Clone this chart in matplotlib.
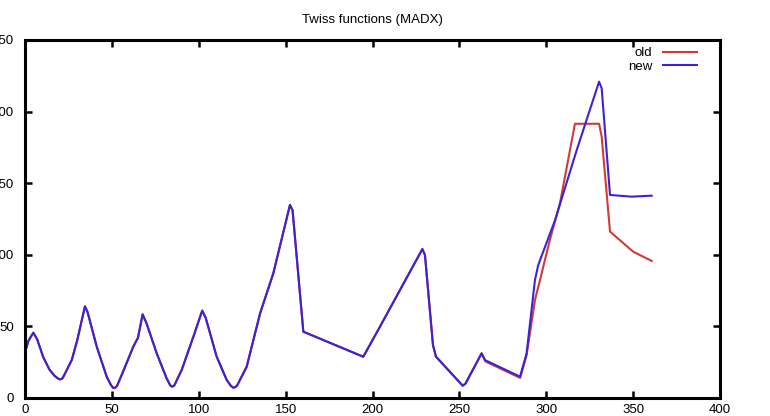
import matplotlib
matplotlib.use("Agg")
import matplotlib.pyplot as plt

plt.rcParams["font.family"] = ["Liberation Sans", "DejaVu Sans"]

# part of the lattice where old and new optics coincide
s_common = [0, 2, 4.8, 7, 10.5, 14, 17, 19, 20.1, 21.5, 23, 26.9, 30, 34.5, 36, 41.3, 47,
            49.5, 50.8, 52, 53, 57, 62.3, 65, 67.7, 70, 75.8, 81.5, 83.5, 84.4, 85.5, 86,
            90.2, 96.9, 102, 104, 110.3, 116.1, 118.5, 119.9, 121, 122, 127.6, 135.3,
            142.9, 152.5, 154, 157, 160.2, 194.7, 204.3, 228.7, 230.2, 234.8, 236.5,
            251.9, 253.5, 262.8]
beta_common = [32, 40, 45.6, 41, 28.5, 20, 15.5, 13.6, 13, 13.6, 17, 26.5, 40, 64, 60, 35.8,
               14.9, 9, 7, 7.2, 8.5, 20, 35.8, 42, 58.4, 52, 31.2, 13.8, 9, 8, 8.3, 9,
               19.6, 42.8, 61, 56, 28.9, 12.6, 8.5, 7.2, 7.6, 8.5, 21.9, 59.1,
               87, 134.8, 131, 90, 46.3, 28.8, 49.8, 104, 99.8, 37, 28.9,
               8.6, 10, 31.2]

s_old_tail = [265, 285, 288.7, 293.5, 296.4, 302, 307.9, 316.5, 330.4, 331.9, 336.7, 350, 360.7]
beta_old_tail = [25.5, 14, 30, 68.4, 82.4, 110, 136, 191.5, 191.5, 182.5, 116.2, 102.2, 95.7]

s_new_tail = [264.7, 284.9, 288.7, 293.5, 295.4, 305, 317.5, 330.4, 331.9, 336.7, 349, 360.7]
beta_new_tail = [26.5, 14.9, 31.2, 82.4, 92.9, 124, 173, 220.9, 216.3, 141.8, 140.6, 141.3]

s_old = s_common + s_old_tail
beta_old = beta_common + beta_old_tail
s_new = s_common + s_new_tail
beta_new = beta_common + beta_new_tail

fig = plt.figure(figsize=(7.7, 4.16), dpi=100)
ax = fig.add_axes([25 / 770, 18 / 416, 695 / 770, 358 / 416])

ax.plot(s_old, beta_old, color="#d23a3a", lw=1.5, label="old")
ax.plot(s_new, beta_new, color="#3a22d6", lw=1.5, label="new")

ax.set_xlim(0, 400)
ax.set_ylim(0, 250)
ax.set_xticks(range(0, 401, 50))
ax.set_yticks(range(0, 251, 50))
ax.tick_params(direction="in", length=5, width=1.8, top=True, right=True,
               labelsize=9.5, pad=4)
ax.tick_params(axis="y", pad=8)
for sp in ax.spines.values():
    sp.set_linewidth(2.2)

ax.set_title("Twiss functions (MADX)", fontsize=9.5, pad=12)

leg = ax.legend(loc="upper right", bbox_to_anchor=(0.975, 0.995), borderaxespad=0,
                frameon=False, markerfirst=False, fontsize=9.5, handlelength=2.6,
                labelspacing=0.08, handletextpad=0.8)

fig.savefig("out.png", dpi=100)
